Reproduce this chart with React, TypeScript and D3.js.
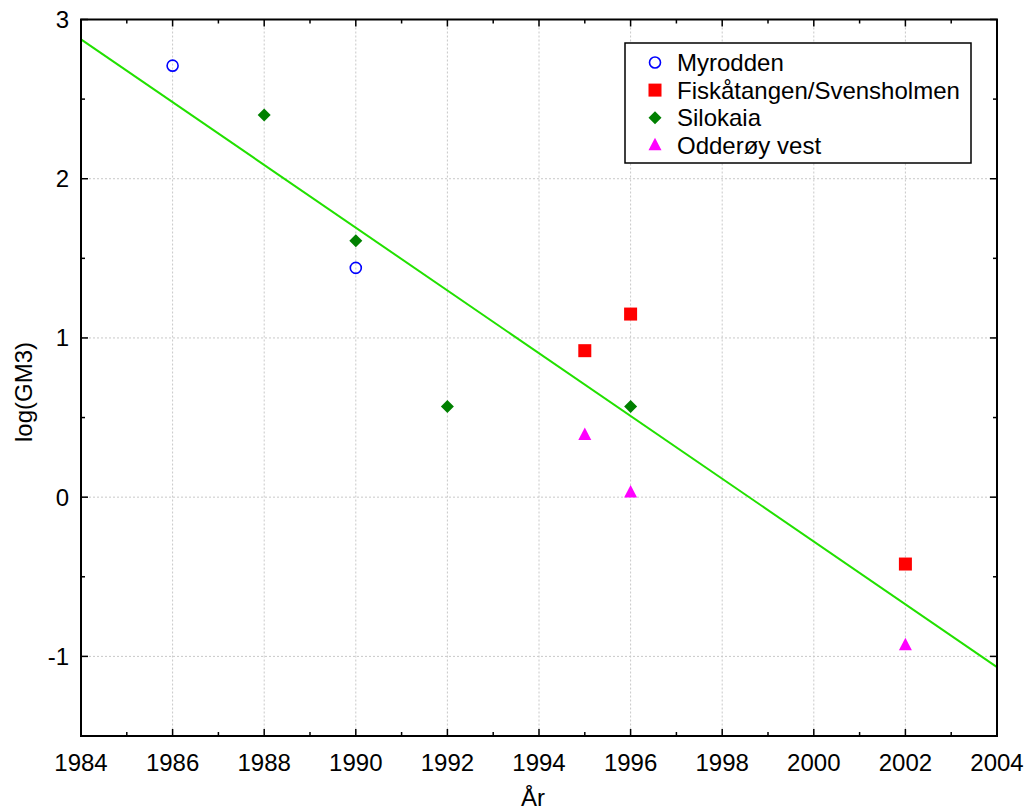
import React from "react";
import * as d3 from "d3";

// Observations per station: [year, log(GM3)]
const myrodden: [number, number][] = [
  [1986, 2.71],
  [1990, 1.44],
];
const fiskatangen: [number, number][] = [
  [1995, 0.92],
  [1996, 1.15],
  [2002, -0.42],
];
const silokaia: [number, number][] = [
  [1988, 2.4],
  [1990, 1.61],
  [1992, 0.57],
  [1996, 0.57],
];
const odderoy: [number, number][] = [
  [1995, 0.39],
  [1996, 0.03],
  [2002, -0.93],
];

// Fitted trend line end points
const trendLine: [number, number][] = [
  [1984, 2.875],
  [2004, -1.067],
];

const xTicks = [1984, 1986, 1988, 1990, 1992, 1994, 1996, 1998, 2000, 2002, 2004];
const xMinorTicks = [1985, 1987, 1989, 1991, 1993, 1995, 1997, 1999, 2001, 2003];
const yTicks = [-1, 0, 1, 2, 3];
const yMinorTicks = [-1.5, -0.5, 0.5, 1.5, 2.5];

const legendLabels = ["Myrodden", "Fiskåtangen/Svensholmen", "Silokaia", "Odderøy vest"];

const FONT = "'Liberation Sans', Arial, sans-serif";
const FS = 24;

const left = 81;
const right = 997;
const top = 19.5;
const bottom = 736;

function Marker({ kind, x, y }: { kind: string; x: number; y: number }) {
  if (kind === "circle")
    return <circle cx={x} cy={y} r={5.5} fill="none" stroke="#0000ff" strokeWidth={1.6} />;
  if (kind === "square")
    return <rect x={x - 6.5} y={y - 6.5} width={13} height={13} fill="#ff0000" />;
  if (kind === "diamond")
    return (
      <path d={`M${x},${y - 6.5}L${x + 6.5},${y}L${x},${y + 6.5}L${x - 6.5},${y}Z`} fill="#008000" />
    );
  return (
    <path d={`M${x},${y - 7.5}L${x + 6.5},${y + 5}L${x - 6.5},${y + 5}Z`} fill="#ff00ff" />
  );
}

export default function App() {
  const x = d3.scaleLinear().domain([1984, 2004]).range([left, right]);
  const y = d3.scaleLinear().domain([-1.5, 3]).range([bottom, top]);
  const line = d3
    .line<[number, number]>()
    .x((d) => x(d[0]))
    .y((d) => y(d[1]));

  const series = [
    { data: myrodden, kind: "circle" },
    { data: fiskatangen, kind: "square" },
    { data: silokaia, kind: "diamond" },
    { data: odderoy, kind: "triangle" },
  ];

  const tickLen = 7;
  const minorLen = 4;

  return (
    <svg
      width={1026}
      height={811}
      style={{ position: "absolute", left: 0, top: 0, background: "#fff" }}
      fontFamily={FONT}
    >
      {/* grid */}
      <g stroke="#c8c8c8" strokeWidth={1} strokeDasharray="2,2">
        {xTicks.slice(1, -1).map((t) => (
          <line key={`gx${t}`} x1={x(t)} x2={x(t)} y1={top} y2={bottom} />
        ))}
        {yTicks.map((t) => (
          <line key={`gy${t}`} x1={left} x2={right} y1={y(t)} y2={y(t)} />
        ))}
      </g>

      {/* trend */}
      <path d={line(trendLine) ?? ""} stroke="#22e000" strokeWidth={2} fill="none" />

      {/* markers */}
      {series.map((s) =>
        s.data.map((d, i) => <Marker key={`${s.kind}${i}`} kind={s.kind} x={x(d[0])} y={y(d[1])} />)
      )}

      {/* frame and ticks */}
      <rect x={left} y={top} width={right - left} height={bottom - top} fill="none" stroke="#000" strokeWidth={2} />
      <g stroke="#000" strokeWidth={1.5}>
        {xTicks.map((t) => (
          <g key={`tx${t}`}>
            <line x1={x(t)} x2={x(t)} y1={bottom} y2={bottom - tickLen} />
            <line x1={x(t)} x2={x(t)} y1={top} y2={top + tickLen} />
          </g>
        ))}
        {xMinorTicks.map((t) => (
          <g key={`mx${t}`}>
            <line x1={x(t)} x2={x(t)} y1={bottom} y2={bottom - minorLen} />
            <line x1={x(t)} x2={x(t)} y1={top} y2={top + minorLen} />
          </g>
        ))}
        {yTicks.map((t) => (
          <g key={`ty${t}`}>
            <line x1={left} x2={left + tickLen} y1={y(t)} y2={y(t)} />
            <line x1={right} x2={right - tickLen} y1={y(t)} y2={y(t)} />
          </g>
        ))}
        {yMinorTicks.map((t) => (
          <g key={`my${t}`}>
            <line x1={left} x2={left + minorLen} y1={y(t)} y2={y(t)} />
            <line x1={right} x2={right - minorLen} y1={y(t)} y2={y(t)} />
          </g>
        ))}
      </g>

      {/* tick labels */}
      <g fontSize={FS} fill="#000">
        {xTicks.map((t) => (
          <text key={`lx${t}`} x={x(t)} y={bottom + 35} textAnchor="middle">
            {t}
          </text>
        ))}
        {yTicks.map((t) => (
          <text key={`ly${t}`} x={left - 12} y={y(t) + 8.5} textAnchor="end">
            {t}
          </text>
        ))}
      </g>

      {/* axis titles */}
      <text x={(left + right) / 2 - 6} y={806} fontSize={FS} textAnchor="middle">
        År
      </text>
      <text transform={`translate(32,392) rotate(-90)`} fontSize={FS} textAnchor="middle">
        log(GM3)
      </text>

      {/* legend */}
      <g>
        <rect x={625} y={43} width={346} height={120} fill="#fff" stroke="#000" strokeWidth={1.5} />
        {legendLabels.map((lab, i) => (
          <g key={lab}>
            <Marker kind={series[i].kind} x={655} y={62.5 + i * 27.6} />
            <text x={677} y={62.5 + i * 27.6 + 8.5} fontSize={FS}>
              {lab}
            </text>
          </g>
        ))}
      </g>
    </svg>
  );
}
